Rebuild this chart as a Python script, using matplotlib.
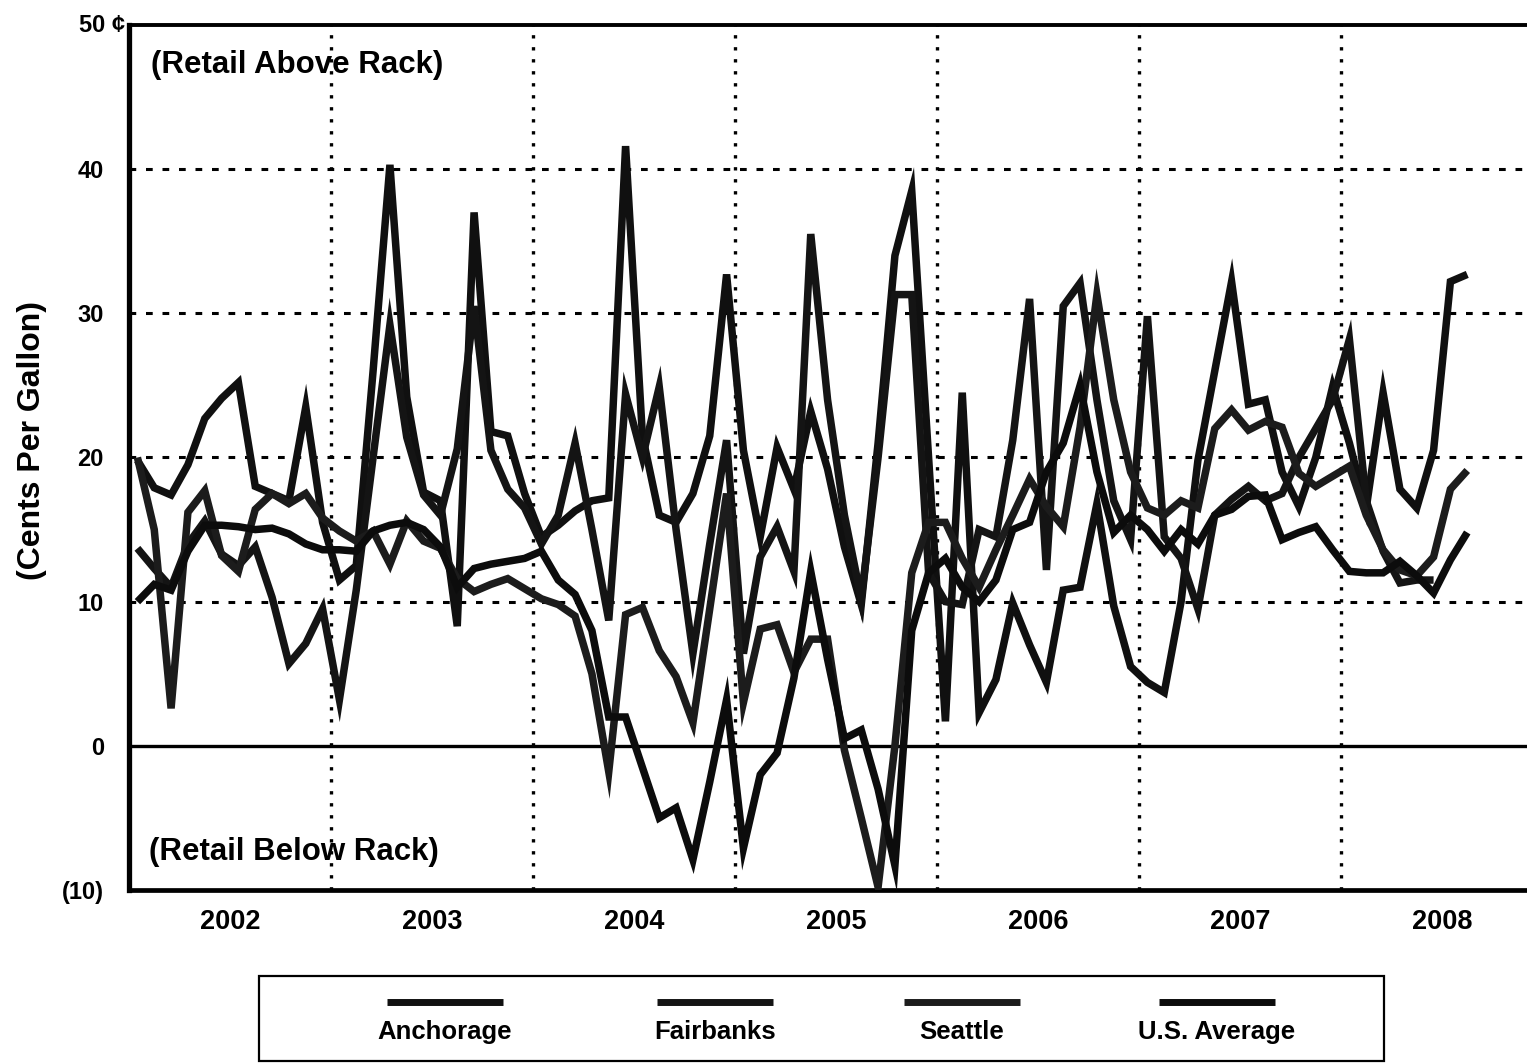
import numpy as np
import pandas as pd
import matplotlib
matplotlib.use("Agg")
import matplotlib.pyplot as plt
from matplotlib.lines import Line2D
from matplotlib.patches import Rectangle
import matplotlib.transforms as mtransforms

plt.rcParams['font.family'] = ['Liberation Sans', 'DejaVu Sans']
plt.rcParams['font.weight'] = 'bold'

# ---------------- data (cents per gallon, retail minus rack) ----------------
months = pd.date_range("2002-01-01", "2008-08-01", freq="MS")

anchorage = [
    19.8, 17.9, 17.4, 19.5, 22.7, 24.1, 25.2, 18.0, 17.5, 17.0, 23.5, 15.5,
    11.5, 12.5, 26.0, 40.3, 24.2, 17.6, 17.0, 8.3, 37.0, 21.8, 21.5, 17.5,
    14.5, 15.3, 16.3, 17.0, 17.2, 41.6, 21.5, 16.0, 15.5, 17.5, 21.5, 32.7,
    20.5, 14.5, 20.7, 17.8, 23.2, 19.2, 13.8, 9.8, 21.0, 34.0, 38.5, 20.0,
    1.7, 24.5, 2.3, 4.6, 9.9, 7.0, 4.4, 10.8, 11.0, 16.8, 9.7, 5.5,
    4.4, 3.7, 10.0, 19.8, 26.0, 32.2, 23.7, 24.0, 19.0, 16.6, 20.0, 24.9,
    21.0, 16.5, 24.5, 17.8, 16.5, 20.5, 32.2, 32.7]

fairbanks = [
    13.7, 12.3, 11.0, 14.0, 15.6, 13.3, 12.5, 13.8, 10.3, 5.7, 7.1, 9.5,
    3.2, 10.8, 20.0, 29.2, 21.4, 17.4, 16.0, 20.6, 30.5, 20.5, 17.8, 16.5,
    14.0, 16.0, 21.0, 15.0, 8.7, 24.4, 20.0, 24.9, 15.0, 6.4, 14.0, 21.2,
    6.4, 13.1, 15.2, 12.1, 35.5, 24.0, 16.0, 10.2, 20.0, 31.3, 31.3, 12.0,
    10.0, 9.8, 15.0, 14.5, 21.2, 31.0, 12.2, 30.5, 32.1, 24.0, 17.0, 14.3,
    29.8, 14.5, 13.0, 9.5, 16.0, 17.1, 18.0, 17.0, 17.5, 20.0, 22.0, 24.0,
    28.2, 17.0, 13.5, 11.3, 11.5, 11.5, np.nan, np.nan]

seattle = [
    20.0, 15.0, 2.6, 16.2, 17.7, 13.2, 12.1, 16.4, 17.5, 16.8, 17.5, 15.8,
    14.9, 14.2, 14.9, 12.6, 15.6, 14.2, 13.7, 11.6, 10.7, 11.2, 11.6, 10.9,
    10.2, 9.8, 9.0, 5.0, -1.8, 9.1, 9.6, 6.6, 4.8, 1.6, 9.5, 17.5,
    3.0, 8.1, 8.4, 5.1, 7.4, 7.4, -0.3, -5.0, -9.8, 0.0, 12.0, 15.5,
    15.5, 13.0, 11.0, 13.6, 16.0, 18.5, 16.6, 15.2, 22.1, 31.3, 24.0, 19.0,
    16.5, 16.0, 17.0, 16.5, 22.0, 23.3, 21.9, 22.5, 22.1, 18.9, 18.0, 18.7,
    19.4, 16.0, 13.6, 12.2, 11.8, 13.1, 17.8, 19.1]

us_average = [
    10.0, 11.2, 10.8, 13.5, 15.3, 15.3, 15.2, 15.0, 15.1, 14.7, 14.0, 13.6,
    13.6, 13.5, 14.9, 15.3, 15.5, 15.0, 13.8, 11.0, 12.3, 12.6, 12.8, 13.0,
    13.5, 11.5, 10.5, 8.0, 2.0, 2.0, -1.5, -5.0, -4.3, -7.9, -2.5, 3.2,
    -7.1, -2.0, -0.5, 4.7, 12.1, 6.0, 0.5, 1.1, -3.0, -8.3, 8.0, 12.0,
    13.0, 11.0, 10.0, 11.5, 15.0, 15.5, 19.0, 21.0, 25.0, 19.0, 14.8, 16.0,
    15.0, 13.5, 15.0, 14.0, 16.0, 16.4, 17.3, 17.4, 14.3, 14.8, 15.2, 13.6,
    12.1, 12.0, 12.0, 12.8, 11.8, 10.6, 12.9, 14.8]

series_names = ["Anchorage", "Fairbanks", "Seattle", "U.S. Average"]
series_values = [anchorage, fairbanks, seattle, us_average]
series_colors = ["#101010", "#141414", "#1c1c1c", "#0c0c0c"]

year_labels = ["2002", "2003", "2004", "2005", "2006", "2007", "2008"]
y_ticks = [0, 10, 20, 30, 40]
y_tick_labels = ["0", "10", "20", "30", "40"]

# ---------------- figure ----------------
W, H = 1527, 1063
fig = plt.figure(figsize=(W / 100, H / 100), dpi=100)
fig.patch.set_facecolor("white")

def fx(px):
    return px / W

def fy(py):
    return 1 - py / H

ax_left, ax_right = 129, 1543
ax_top, ax_bot = 25, 890
ax = fig.add_axes([fx(ax_left), fy(ax_bot), fx(ax_right - ax_left), (ax_bot - ax_top) / H])

# x position: mid-month in decimal years
xpos = np.array([d.year + (d.month - 0.5) / 12 for d in months])

for name, vals, col in zip(series_names, series_values, series_colors):
    ax.plot(xpos, np.array(vals, dtype=float), color=col, lw=5.4,
            solid_joinstyle="miter", solid_capstyle="butt", zorder=3, label=name)

ax.set_xlim(2002, 2009)
ax.set_ylim(-10, 50)

# grid
for yv in [10, 20, 30, 40]:
    ax.axhline(yv, color="black", lw=2.2, linestyle=(0, (2.2, 3.2)), zorder=1)
for xv in range(2003, 2009):
    ax.axvline(xv, color="black", lw=2.4, linestyle=(0, (1.0, 2.6)), zorder=1)
ax.axhline(0, color="black", lw=2.4, zorder=2)

ax.spines["left"].set_linewidth(3.8)
ax.spines["top"].set_linewidth(2.8)
ax.spines["bottom"].set_linewidth(3.4)
for side in ["left", "top", "bottom"]:
    ax.spines[side].set_color("black")
ax.spines["right"].set_visible(False)

ax.set_yticks(y_ticks)
ax.set_yticklabels(y_tick_labels, fontsize=17, fontweight="bold")
ax.set_xticks([int(y) + 0.5 for y in year_labels])
ax.set_xticklabels(year_labels, fontsize=19.5, fontweight="bold")
ax.tick_params(axis="both", length=0)
ax.tick_params(axis="y", pad=18)
ax.tick_params(axis="x", pad=14)

trans = mtransforms.blended_transform_factory(ax.transAxes, ax.transData)
ax.text(-0.003, 50, "50 \u00a2", transform=trans, ha="right", va="center",
        fontsize=17, fontweight="bold")
ax.text(-0.018, -10.2, "(10)", transform=trans, ha="right", va="center",
        fontsize=17, fontweight="bold")

ax.text(2002.11, 47.2, "(Retail Above Rack)", fontsize=22.5, fontweight="bold",
        ha="left", va="center")
ax.text(2002.1, -7.35, "(Retail Below Rack)", fontsize=22.5, fontweight="bold",
        ha="left", va="center")

fig.text(fx(32), fy(440), "(Cents Per Gallon)", rotation=90, ha="center",
         va="center", fontsize=23, fontweight="bold")

# ---------------- legend box ----------------
fig.patches.append(Rectangle((fx(259), fy(1061)), fx(1384 - 259), (1061 - 976) / H,
                             transform=fig.transFigure, fill=False,
                             edgecolor="black", lw=1.6))
legend_centers = [445, 715, 962, 1217]
for cx, name, col in zip(legend_centers, series_names, series_colors):
    fig.lines.append(Line2D([fx(cx - 58), fx(cx + 58)], [fy(1002), fy(1002)],
                            transform=fig.transFigure, color=col, lw=5.0,
                            solid_capstyle="butt"))
    fig.text(fx(cx), fy(1032), name, ha="center", va="center",
             fontsize=18.5, fontweight="bold")

fig.savefig("out.png", dpi=100, facecolor="white")
